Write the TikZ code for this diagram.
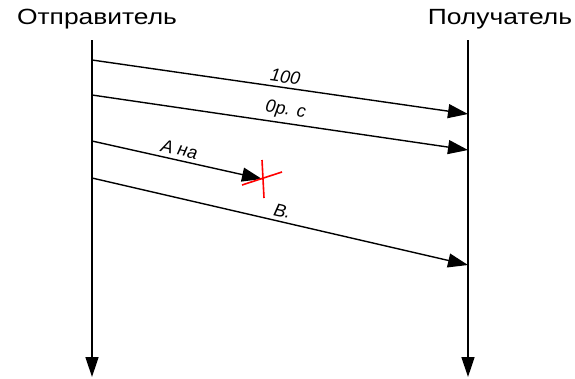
\documentclass[tikz,border=0pt]{standalone}
\usepackage{fontspec}
\setmainfont{Liberation Sans}
\usetikzlibrary{arrows.meta,positioning,calc}

\begin{document}
\begin{tikzpicture}[
      x=1pt, y=-1pt,
      partynode/.style={font=\fontsize{22pt}{24pt}\selectfont, inner sep=0pt, xscale=1.2},
      lifeline/.style={-{Triangle[length=20pt,width=13pt]}, line width=1.4pt, draw=black},
      msgarr/.style={-{Triangle[length=20pt,width=14pt]}, line width=1.4pt, draw=black},
      msglabel/.style={font=\fontsize{18pt}{20pt}\selectfont\itshape, inner sep=4pt, sloped, above},
      lostmark/.style={draw=red, line width=1.6pt}
    ]
      \useasboundingbox (0,0) rectangle (575,378);

      % parties
      \node[partynode] (sender) at (97,19) {Отправитель};
      \node[partynode] (receiver) at (500,19) {Получатель};

      \coordinate (s0) at (92,40);
      \coordinate (s1) at (92,377);
      \coordinate (r0) at (468,40);
      \coordinate (r1) at (468,377);
      \draw[lifeline] (s0) -- (s1);
      \draw[lifeline] (r0) -- (r1);

      % messages
      \coordinate (m1a) at (92,60);   \coordinate (m1b) at (468,114);
      \coordinate (m2a) at (92,95);   \coordinate (m2b) at (468,150);
      \coordinate (m3a) at (92,141);  \coordinate (m3b) at (262,179);
      \coordinate (m4a) at (92,178);  \coordinate (m4b) at (468,265);

      \draw[msgarr] (m1a) -- node[msglabel, pos=0.51] (l1) {100} (m1b);
      \draw[msgarr] (m2a) -- node[msglabel, pos=0.51] (l2) {0р. с} (m2b);
      \draw[msgarr] (m3a) -- node[msglabel, pos=0.5] (l3) {А на} (m3b);
      \draw[msgarr] (m4a) -- node[msglabel, pos=0.5] (l4) {В.} (m4b);

      % lost message
      \coordinate (x0) at (262,160);
      \coordinate (x1) at (264,198);
      \coordinate (x2) at (242,185);
      \coordinate (x3) at (282,172);
      \draw[lostmark] (x0) -- (x1);
      \draw[lostmark] (x2) -- (x3);
    \end{tikzpicture}
\end{document}
